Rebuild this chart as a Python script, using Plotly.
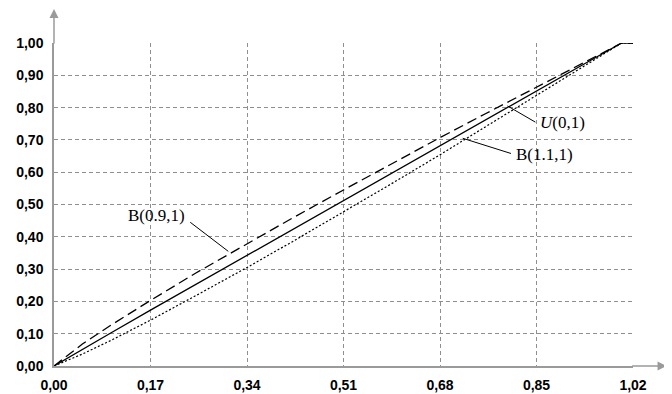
import plotly.graph_objects as go

# Data
x_vals = [0.00, 0.05, 0.10, 0.17, 0.25, 0.34, 0.42, 0.51, 0.60, 0.68, 0.76, 0.85, 0.93, 1.00, 1.02]
b09_vals = [0.00, 0.068, 0.126, 0.203, 0.288, 0.379, 0.458, 0.545, 0.631, 0.707, 0.781, 0.864, 0.937, 1.00, 1.00]
u01_vals = [0.00, 0.052, 0.102, 0.173, 0.253, 0.343, 0.423, 0.513, 0.602, 0.682, 0.761, 0.851, 0.931, 1.00, 1.00]
b11_vals = [0.00, 0.037, 0.079, 0.142, 0.218, 0.305, 0.385, 0.477, 0.570, 0.654, 0.740, 0.836, 0.923, 1.00, 1.00]

x_ticks = [0.00, 0.17, 0.34, 0.51, 0.68, 0.85, 1.02]
y_ticks = [0.00, 0.10, 0.20, 0.30, 0.40, 0.50, 0.60, 0.70, 0.80, 0.90, 1.00]
x_tick_labels = ["0,00", "0,17", "0,34", "0,51", "0,68", "0,85", "1,02"]
y_tick_labels = ["0,00", "0,10", "0,20", "0,30", "0,40", "0,50", "0,60", "0,70", "0,80", "0,90", "1,00"]

fig = go.Figure()
fig.add_trace(go.Scatter(x=x_vals, y=b09_vals, mode="lines",
                         line=dict(color="black", width=1.3, dash="10px,5px"), name="B(0.9,1)"))
fig.add_trace(go.Scatter(x=x_vals, y=u01_vals, mode="lines",
                         line=dict(color="black", width=1.3), name="U(0,1)"))
fig.add_trace(go.Scatter(x=x_vals, y=b11_vals, mode="lines",
                         line=dict(color="black", width=1.2, dash="2px,2px"), name="B(1.1,1)"))

grid = "#8f8f8f"
axis_col = "#9a9a9a"
tickfont = dict(family="Liberation Sans, Arial", size=14, color="black", weight="bold")

fig.update_xaxes(range=[0, 1.02], tickvals=x_ticks, ticktext=x_tick_labels,
                 showgrid=True, gridcolor=grid, griddash="4px,3px", gridwidth=1,
                 showline=True, linecolor=axis_col, linewidth=1.5, zeroline=False,
                 ticks="", tickfont=tickfont, ticklabelstandoff=5, automargin=False)
fig.update_yaxes(range=[0, 1.0], tickvals=y_ticks, ticktext=y_tick_labels,
                 showgrid=True, gridcolor=grid, griddash="4px,3px", gridwidth=1,
                 showline=True, linecolor=axis_col, linewidth=1.5, zeroline=False,
                 ticks="", tickfont=tickfont, ticklabelstandoff=6, automargin=False)

label_font = dict(family="Liberation Serif, Times New Roman", size=17, color="black")

# Leader lines
fig.add_shape(type="line", x0=0.799, y0=0.805, x1=0.848, y1=0.755, xref="x", yref="y",
              line=dict(color="black", width=1))
fig.add_shape(type="line", x0=0.72, y0=0.705, x1=0.805, y1=0.658, xref="x", yref="y",
              line=dict(color="black", width=1))
fig.add_shape(type="line", x0=0.24, y0=0.445, x1=0.307, y1=0.355, xref="x", yref="y",
              line=dict(color="black", width=1))

fig.add_annotation(x=0.852, y=0.755, xref="x", yref="y", text="<i>U</i>(0,1)",
                   showarrow=False, xanchor="left", yanchor="middle", font=label_font)
fig.add_annotation(x=0.810, y=0.655, xref="x", yref="y", text="B(1.1,1)",
                   showarrow=False, xanchor="left", yanchor="middle", font=label_font)
fig.add_annotation(x=0.235, y=0.467, xref="x", yref="y", text="B(0.9,1)",
                   showarrow=False, xanchor="right", yanchor="middle", font=label_font)

# Axis extension arrows
fig.add_annotation(x=1.058, y=0, xref="paper", yref="paper", ax=-36, ay=0,
                   showarrow=True, arrowhead=2, arrowsize=1.2, arrowwidth=1.5,
                   arrowcolor=axis_col, text="")
fig.add_annotation(x=0, y=1.105, xref="paper", yref="paper", ax=0, ay=36,
                   showarrow=True, arrowhead=2, arrowsize=1.2, arrowwidth=1.5,
                   arrowcolor=axis_col, text="")

# The page body has an 8px margin, so the figure is shifted to compensate
fig.update_layout(width=664, height=386, showlegend=False,
                  margin=dict(l=46, r=39, t=35, b=28, autoexpand=False),
                  plot_bgcolor="white", paper_bgcolor="white",
                  font=dict(family="Liberation Sans, Arial"))

fig.write_html("out.html")
